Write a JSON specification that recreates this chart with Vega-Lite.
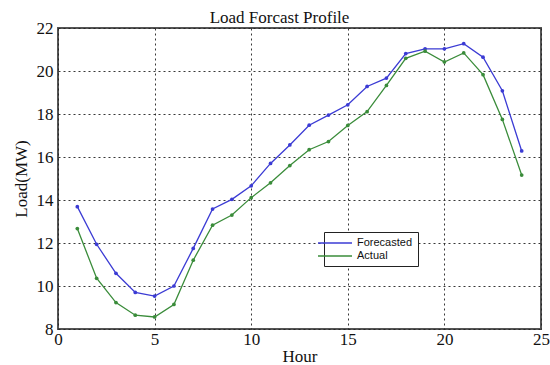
{
  "$schema": "https://vega.github.io/schema/vega-lite/v6.json",
  "width": 483,
  "height": 301,
  "autosize": "none",
  "padding": {"left": 58, "top": 28, "right": 9, "bottom": 36},
  "background": "white",
  "title": {"text": "Load Forcast Profile", "font": "Liberation Serif", "fontSize": 17, "fontWeight": "normal", "color": "#111", "anchor": "middle", "frame": "group", "dx": -20, "dy": 12, "offset": 4},
  "config": {
    "view": {"stroke": "#555", "strokeWidth": 2},
    "axis": {"labelFont": "Liberation Serif", "titleFont": "Liberation Serif", "labelFontSize": 17, "titleFontSize": 17, "titleFontWeight": "normal", "labelColor": "#111", "titleColor": "#111", "domain": false, "tickSize": 0, "gridColor": "#222", "gridDash": [2, 3], "gridWidth": 1, "gridOpacity": 0.9}
  },
  "data": {"values": [
    {"hour": 1, "series": "Forecasted", "load": 13.69},
    {"hour": 2, "series": "Forecasted", "load": 11.94},
    {"hour": 3, "series": "Forecasted", "load": 10.59},
    {"hour": 4, "series": "Forecasted", "load": 9.70},
    {"hour": 5, "series": "Forecasted", "load": 9.53},
    {"hour": 6, "series": "Forecasted", "load": 10.0},
    {"hour": 7, "series": "Forecasted", "load": 11.75},
    {"hour": 8, "series": "Forecasted", "load": 13.58},
    {"hour": 9, "series": "Forecasted", "load": 14.03},
    {"hour": 10, "series": "Forecasted", "load": 14.66},
    {"hour": 11, "series": "Forecasted", "load": 15.70},
    {"hour": 12, "series": "Forecasted", "load": 16.56},
    {"hour": 13, "series": "Forecasted", "load": 17.48},
    {"hour": 14, "series": "Forecasted", "load": 17.95},
    {"hour": 15, "series": "Forecasted", "load": 18.43},
    {"hour": 16, "series": "Forecasted", "load": 19.28},
    {"hour": 17, "series": "Forecasted", "load": 19.67},
    {"hour": 18, "series": "Forecasted", "load": 20.81},
    {"hour": 19, "series": "Forecasted", "load": 21.03},
    {"hour": 20, "series": "Forecasted", "load": 21.03},
    {"hour": 21, "series": "Forecasted", "load": 21.27},
    {"hour": 22, "series": "Forecasted", "load": 20.64},
    {"hour": 23, "series": "Forecasted", "load": 19.08},
    {"hour": 24, "series": "Forecasted", "load": 16.28},
    {"hour": 1, "series": "Actual", "load": 12.67},
    {"hour": 2, "series": "Actual", "load": 10.36},
    {"hour": 3, "series": "Actual", "load": 9.23},
    {"hour": 4, "series": "Actual", "load": 8.64},
    {"hour": 5, "series": "Actual", "load": 8.56},
    {"hour": 6, "series": "Actual", "load": 9.14},
    {"hour": 7, "series": "Actual", "load": 11.2},
    {"hour": 8, "series": "Actual", "load": 12.83},
    {"hour": 9, "series": "Actual", "load": 13.3},
    {"hour": 10, "series": "Actual", "load": 14.11},
    {"hour": 11, "series": "Actual", "load": 14.8},
    {"hour": 12, "series": "Actual", "load": 15.6},
    {"hour": 13, "series": "Actual", "load": 16.34},
    {"hour": 14, "series": "Actual", "load": 16.72},
    {"hour": 15, "series": "Actual", "load": 17.47},
    {"hour": 16, "series": "Actual", "load": 18.11},
    {"hour": 17, "series": "Actual", "load": 19.33},
    {"hour": 18, "series": "Actual", "load": 20.59},
    {"hour": 19, "series": "Actual", "load": 20.92},
    {"hour": 20, "series": "Actual", "load": 20.42},
    {"hour": 21, "series": "Actual", "load": 20.84},
    {"hour": 22, "series": "Actual", "load": 19.83},
    {"hour": 23, "series": "Actual", "load": 17.75},
    {"hour": 24, "series": "Actual", "load": 15.16}
  ]},
  "mark": {"type": "line", "strokeWidth": 1.3, "point": {"filled": true, "size": 14}},
  "encoding": {
    "x": {"field": "hour", "type": "quantitative", "title": "Hour", "scale": {"domain": [0, 25], "nice": false}, "axis": {"values": [0, 5, 10, 15, 20, 25], "labelPadding": 2, "titlePadding": 1, "labelFlush": false}},
    "y": {"field": "load", "type": "quantitative", "title": "Load(MW)", "scale": {"domain": [8, 22], "nice": false, "zero": false}, "axis": {"values": [8, 10, 12, 14, 16, 18, 20, 22], "labelPadding": 5, "titlePadding": 6, "labelFlush": false}},
    "color": {"field": "series", "type": "nominal", "scale": {"domain": ["Forecasted", "Actual"], "range": ["#3b3bd4", "#3a8c3a"]},
      "legend": {"orient": "none", "legendX": 266, "legendY": 204, "title": null, "labelFont": "Liberation Sans", "labelFontSize": 11, "labelColor": "#111", "symbolType": "M-3.4,0H3.4", "symbolSize": 100, "symbolStrokeWidth": 1.3, "fillColor": "white", "strokeColor": "#222", "padding": 5, "rowPadding": 2, "labelOffset": 16}}
  }
}
